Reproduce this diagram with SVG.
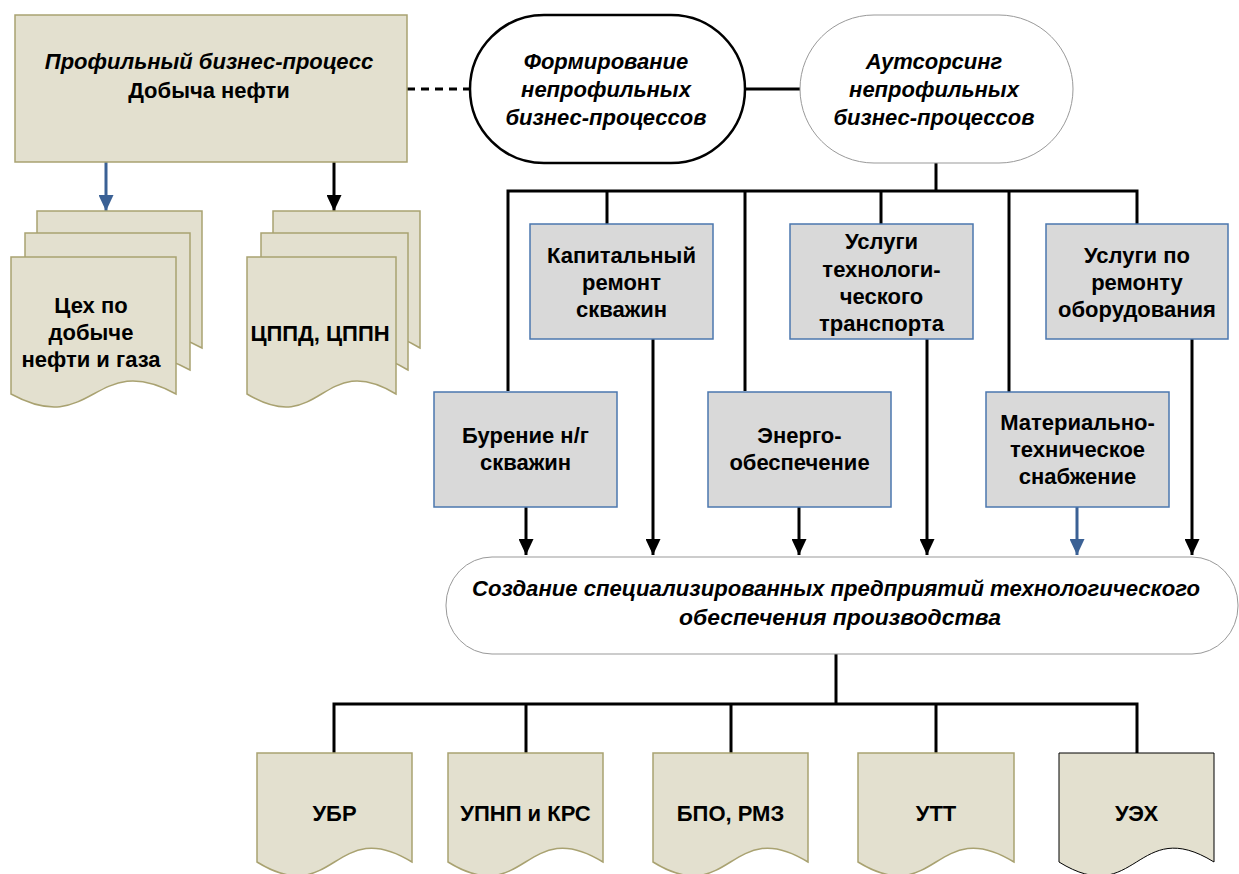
<svg xmlns="http://www.w3.org/2000/svg" width="1239" height="874" viewBox="0 0 1239 874">
<style>
.t{font-family:"Liberation Sans",Arial,sans-serif;font-weight:bold;font-size:22px;fill:#000;text-anchor:middle}
.i{font-style:italic}
.beige{fill:#E3E0CF;stroke:#A9A271;stroke-width:1.5}
.gray{fill:#D9D9D9;stroke:#4B77AE;stroke-width:1.5}
.ln{fill:none;stroke:#000;stroke-width:3}
.bl{fill:none;stroke:#3B6195;stroke-width:3}
</style>
<defs>
<marker id="a" markerWidth="16" markerHeight="15" viewBox="0 0 16 15" refX="16" refY="7.5" orient="auto" markerUnits="userSpaceOnUse">
<path d="M0,0 L16,7.5 L0,15 Z" fill="#000"/>
</marker>
<marker id="ab" markerWidth="16" markerHeight="15" viewBox="0 0 16 15" refX="16" refY="7.5" orient="auto" markerUnits="userSpaceOnUse">
<path d="M0,0 L16,7.5 L0,15 Z" fill="#3B6195"/>
</marker>
</defs>

<g id="connectors">
<line x1="407" y1="89" x2="470" y2="89" class="ln" stroke-dasharray="8,6"/>
<line x1="745" y1="89" x2="800" y2="89" class="ln"/>
<line x1="106" y1="162" x2="106" y2="211" class="bl" marker-end="url(#ab)"/>
<line x1="334" y1="162" x2="334" y2="211" class="ln" marker-end="url(#a)"/>
<line x1="936" y1="163" x2="936" y2="191" class="ln"/>
<path d="M508,391 V191 H1137 V224" class="ln"/>
<line x1="607" y1="191" x2="607" y2="224" class="ln"/>
<line x1="745" y1="191" x2="745" y2="391" class="ln"/>
<line x1="881" y1="191" x2="881" y2="224" class="ln"/>
<line x1="1009" y1="191" x2="1009" y2="398" class="ln"/>
<line x1="526" y1="507" x2="526" y2="555" class="ln" marker-end="url(#a)"/>
<line x1="653" y1="339" x2="653" y2="555" class="ln" marker-end="url(#a)"/>
<line x1="799" y1="507" x2="799" y2="555" class="ln" marker-end="url(#a)"/>
<line x1="927" y1="339" x2="927" y2="555" class="ln" marker-end="url(#a)"/>
<line x1="1077" y1="507" x2="1077" y2="555" class="bl" marker-end="url(#ab)"/>
<line x1="1192" y1="339" x2="1192" y2="555" class="ln" marker-end="url(#a)"/>
<line x1="836" y1="654" x2="836" y2="704" class="ln"/>
<path d="M334,753 V704 H1137 V753" class="ln"/>
<line x1="526" y1="704" x2="526" y2="753" class="ln"/>
<line x1="731" y1="704" x2="731" y2="753" class="ln"/>
<line x1="936" y1="704" x2="936" y2="753" class="ln"/>
</g>

<g id="n-profile">
<rect x="15" y="15" width="392" height="147" class="beige"/>
<text x="209" y="69" class="t i">Профильный бизнес-процесс</text>
<text x="209" y="98" class="t">Добыча нефти</text>
</g>

<g id="n-ceh">
<path d="M37,211 H202 V348 C119.5,303 119.5,393 37,348 Z" class="beige"/>
<path d="M25,233 H190 V370 C107.5,325 107.5,415 25,370 Z" class="beige"/>
<path d="M11,257 H176 V394 C93.5,349 93.5,439 11,394 Z" class="beige"/>
<text x="91" y="313" class="t">Цех по</text>
<text x="91" y="340" class="t">добыче</text>
<text x="91" y="367" class="t">нефти и газа</text>
</g>

<g id="n-cppd">
<path d="M273,211 H420 V348 C346.5,303 346.5,393 273,348 Z" class="beige"/>
<path d="M261,233 H408 V370 C334.5,325 334.5,415 261,370 Z" class="beige"/>
<path d="M247,257 H396 V394 C321.5,349 321.5,439 247,394 Z" class="beige"/>
<text x="320" y="341" class="t">ЦППД, ЦППН</text>
</g>

<g id="n-form">
<rect x="470" y="15" width="275" height="148" rx="74" ry="74" fill="#fff" stroke="#000" stroke-width="2.5"/>
<text x="606" y="69" class="t i">Формирование</text>
<text x="606" y="97" class="t i">непрофильных</text>
<text x="606" y="125" class="t i">бизнес-процессов</text>
</g>

<g id="n-out">
<rect x="800" y="15" width="273" height="148" rx="74" ry="74" fill="#fff" stroke="#999" stroke-width="1"/>
<text x="934" y="69" class="t i">Аутсорсинг</text>
<text x="934" y="97" class="t i">непрофильных</text>
<text x="934" y="125" class="t i">бизнес-процессов</text>
</g>

<g id="n-kap">
<rect x="530" y="224" width="183" height="115" class="gray"/>
<text x="621.5" y="263" class="t">Капитальный</text>
<text x="621.5" y="290" class="t">ремонт</text>
<text x="621.5" y="317" class="t">скважин</text>
</g>

<g id="n-trans">
<rect x="790" y="224" width="183" height="115" class="gray"/>
<text x="881.5" y="249" class="t">Услуги</text>
<text x="881.5" y="277" class="t">технологи-</text>
<text x="881.5" y="304" class="t">ческого</text>
<text x="881.5" y="331" class="t">транспорта</text>
</g>

<g id="n-rem">
<rect x="1046" y="224" width="182" height="115" class="gray"/>
<text x="1137" y="263" class="t">Услуги по</text>
<text x="1137" y="290" class="t">ремонту</text>
<text x="1137" y="317" class="t">оборудования</text>
</g>

<g id="n-bur">
<rect x="434" y="392" width="183" height="115" class="gray"/>
<text x="525.5" y="443" class="t">Бурение н/г</text>
<text x="525.5" y="470" class="t">скважин</text>
</g>

<g id="n-energo">
<rect x="708" y="392" width="183" height="115" class="gray"/>
<text x="799.5" y="443" class="t">Энерго-</text>
<text x="799.5" y="470" class="t">обеспечение</text>
</g>

<g id="n-mat">
<rect x="986" y="392" width="183" height="115" class="gray"/>
<text x="1077.5" y="430" class="t">Материально-</text>
<text x="1077.5" y="457" class="t">техническое</text>
<text x="1077.5" y="484" class="t">снабжение</text>
</g>

<g id="n-create">
<rect x="446" y="557" width="792" height="97" rx="46" ry="48" fill="#fff" stroke="#999" stroke-width="1"/>
<text x="836" y="596" class="t i" textLength="728" lengthAdjust="spacingAndGlyphs">Создание специализированных предприятий технологического</text>
<text x="840" y="625" class="t i" textLength="322" lengthAdjust="spacingAndGlyphs">обеспечения производства</text>
</g>

<g id="n-ubr">
<path d="M257,753 H412 V862 C334.5,814 334.5,910 257,862 Z" class="beige"/>
<text x="334.5" y="821" class="t">УБР</text>
</g>
<g id="n-upnp">
<path d="M448,753 H603 V862 C525.5,814 525.5,910 448,862 Z" class="beige"/>
<text x="525.5" y="821" class="t">УПНП и КРС</text>
</g>
<g id="n-bpo">
<path d="M653,753 H808 V862 C730.5,814 730.5,910 653,862 Z" class="beige"/>
<text x="730.5" y="821" class="t">БПО, РМЗ</text>
</g>
<g id="n-utt">
<path d="M858,753 H1014 V862 C936,814 936,910 858,862 Z" class="beige"/>
<text x="936" y="821" class="t">УТТ</text>
</g>
<g id="n-ueh">
<path d="M1059,753 H1214 V862 C1136.5,814 1136.5,910 1059,862 Z" fill="#E3E0CF" stroke="#000" stroke-width="1"/>
<text x="1136.5" y="821" class="t">УЭХ</text>
</g>
</svg>
